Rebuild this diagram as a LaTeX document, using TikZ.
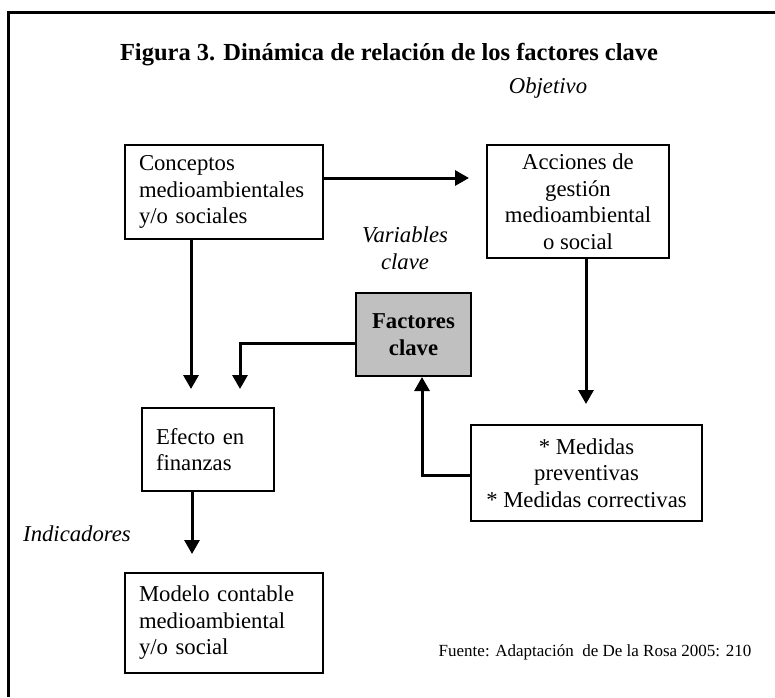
\documentclass[tikz,border=0pt]{standalone}
\usepackage{fontspec}
\setmainfont{Liberation Serif}
\usetikzlibrary{arrows.meta}
\definecolor{boxgray}{HTML}{C0C0C0}
\tikzset{
  every node/.style={font=\fontsize{22.7}{26.5}\selectfont},
  box/.style={draw, line width=2pt, rectangle, inner sep=0pt},
  lbox/.style={box, align=left},
  cbox/.style={box, align=center},
  arr/.style={line width=3pt, -{Triangle[width=15pt,length=14pt]}},
  conn/.style={line width=3pt},
  lab/.style={font=\fontsize{22.7}{26.5}\selectfont\itshape, align=center, inner sep=0pt},
  frame/.style={line width=3pt}
}
\begin{document}
\begin{tikzpicture}[x=1pt,y=-1pt]
\useasboundingbox (0,0) rectangle (775,697);
% frame (top and left only)
\draw[frame] (775,12) -- (8,12) -- (8,697);
% title
\node[inner sep=0pt, font=\fontsize{24.5}{28}\selectfont\bfseries] (title) at (389,55) {Figura 3. Dinámica de relación de los factores clave};
% labels
\node[lab] (obj) at (548,88) {Objetivo};
\node[lab] (var) at (405,248) {Variables\\clave};
\node[lab, anchor=west] (ind) at (23,534) {Indicadores};
\node[inner sep=0pt, font=\fontsize{17}{20}\selectfont] (fuente) at (595,652) {Fuente: Adaptación~ de De la Rosa 2005: 210};
% boxes
\node[lbox, minimum width=198pt, minimum height=94pt, text width=170pt] (conc) at (224,192) {Conceptos\\medioambientales\\y/o sociales};
\node[cbox, minimum width=182pt, minimum height=113pt] (acc) at (578,201.5) {Acciones de\\gestión\\medioambiental\\o social};
\node[cbox, fill=boxgray, minimum width=115pt, minimum height=83pt, font=\fontsize{22.7}{26.5}\selectfont\bfseries] (fac) at (413.5,334.5) {Factores\\clave};
\node[lbox, minimum width=132pt, minimum height=83pt, text width=104pt] (eff) at (208,449.5) {Efecto en\\finanzas};
\node[cbox, minimum width=231pt, minimum height=96pt] (med) at (586.5,473) {* Medidas\\preventivas\\* Medidas correctivas};
\node[lbox, minimum width=198pt, minimum height=100pt, text width=170pt] (mod) at (224,623) {Modelo contable\\medioambiental\\y/o social};
% connectors
\draw[arr, shorten >=17pt] ([yshift=14pt]conc.east) -- ([yshift=14pt]conc.east -| acc.west);
\draw[arr, shorten >=18pt] ([xshift=-33pt]conc.south) -- ([xshift=-33pt]conc.south |- eff.north);
\draw[arr, shorten >=18pt] ([yshift=-8.5pt]fac.west) -| ([xshift=32pt]eff.north);
\draw[arr, shorten >=18pt] ([xshift=-16pt]eff.south) -- ([xshift=-16pt]eff.south |- mod.north);
\draw[arr, shorten >=20pt] ([xshift=8pt]acc.south) -- ([xshift=8pt]acc.south |- med.north);
\draw[arr] ([yshift=-2pt]med.west) -| ([xshift=8.5pt]fac.south);
\end{tikzpicture}
\end{document}
